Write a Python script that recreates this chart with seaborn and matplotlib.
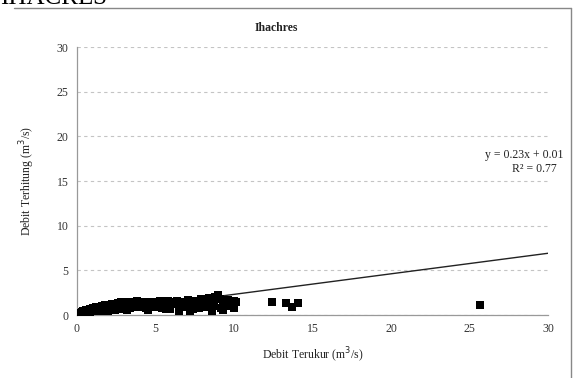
import matplotlib
matplotlib.use("Agg")
import matplotlib.pyplot as plt
import seaborn as sns
import pandas as pd
from matplotlib.lines import Line2D

# Observed (Debit Terukur) and computed (Debit Terhitung) discharge, m3/s
obs = [0.05, 0.1, 0.15, 0.2, 0.3, 0.35, 0.4, 0.5, 0.6, 0.7, 0.8, 0.9, 1.0, 1.1,
       1.2, 1.3, 1.4, 1.5, 1.6, 1.7, 1.8, 1.9, 2.0, 2.1, 2.2, 2.3, 2.5, 2.6,
       2.7, 2.8, 3.0, 3.1, 3.2, 3.3, 3.5, 3.6, 3.7, 3.8, 4.0, 4.1, 4.2, 4.3,
       4.5, 4.6, 4.8, 5.0, 5.2, 5.3, 5.5, 5.6, 5.8, 6.0, 6.1, 6.3, 6.4, 6.6,
       6.8, 7.0, 7.1, 7.3, 7.5, 7.7, 7.9, 8.0, 8.2, 8.4, 8.6, 8.8, 9.0, 9.1,
       9.3, 9.5, 9.6, 9.8, 10.0, 10.1,
       0.3, 0.8, 1.2, 1.7, 2.4, 2.9, 3.4, 3.9, 4.4, 4.9, 5.4, 5.9, 6.5, 6.9,
       7.4, 7.8, 8.3, 8.7, 9.2, 9.7,
       4.5, 5.7, 6.5, 7.2, 8.6, 9.3, 10.0, 3.2, 2.0,
       12.4, 13.3, 13.7, 14.1, 25.7]
sim = [0.05, 0.15, 0.1, 0.25, 0.2, 0.35, 0.45, 0.3, 0.55, 0.45, 0.65, 0.5, 0.75, 0.6,
       0.85, 0.7, 0.95, 0.8, 1.05, 0.9, 1.1, 0.8, 1.15, 0.9, 1.25, 1.0, 1.15, 1.3,
       1.0, 1.4, 1.25, 1.1, 1.4, 1.0, 1.5, 1.25, 1.35, 1.6, 1.25, 1.5, 1.35, 1.1,
       1.5, 1.35, 1.2, 1.5, 1.35, 1.6, 1.2, 1.5, 1.6, 1.3, 1.5, 1.2, 1.6, 1.35,
       1.5, 1.2, 1.7, 1.6, 1.3, 1.6, 1.8, 1.4, 1.7, 1.9, 1.5, 2.0, 2.2, 1.8,
       1.5, 1.4, 1.7, 1.3, 1.6, 1.5,
       0.2, 0.3, 0.4, 0.5, 0.6, 0.7, 0.8, 0.9, 0.8, 0.9, 0.8, 0.7, 0.6, 0.9,
       0.7, 0.8, 0.9, 1.0, 0.8, 1.0,
       0.6, 0.7, 0.5, 0.4, 0.5, 0.6, 0.8, 0.6, 0.4,
       1.4, 1.35, 0.95, 1.3, 1.15]

trend_x = [0, 30]
trend_y = [0.01, 6.91]

df = pd.DataFrame({"obs": obs, "sim": sim})
tr = pd.DataFrame({"x": trend_x, "y": trend_y})

sns.set_style("white")
plt.rcParams["font.family"] = ["Liberation Serif", "DejaVu Serif"]

fig = plt.figure(figsize=(5.77, 3.78), dpi=100)
ax = fig.add_axes([77 / 577, 1 - 315 / 378, 471 / 577, 268 / 378])

ax.yaxis.grid(True, linestyle=(0, (3, 3)), color="#c4c4c4", linewidth=0.8)
ax.set_axisbelow(True)

sns.lineplot(data=tr, x="x", y="y", color="#222222", linewidth=1.0, ax=ax, zorder=2)
sns.scatterplot(data=df, x="obs", y="sim", marker="s", s=36, color="black",
                edgecolor="black", linewidth=0, ax=ax, zorder=3)

ax.set_xlim(0, 30)
ax.set_ylim(0, 30)
ax.set_xticks([0, 5, 10, 15, 20, 25, 30])
ax.set_yticks([0, 5, 10, 15, 20, 25, 30])
ax.tick_params(axis="both", labelsize=8.5, length=0, pad=6, colors="#333333")
for s in ["top", "right"]:
    ax.spines[s].set_visible(False)
for s in ["left", "bottom"]:
    ax.spines[s].set_color("#999999")
    ax.spines[s].set_linewidth(0.9)

ax.set_xlabel("Debit Terukur (m$^3$/s)", fontsize=8.5, color="#222222", labelpad=8)
ax.set_ylabel("Debit Terhitung (m$^3$/s)", fontsize=8.5, color="#222222", labelpad=14)

fig.text(276 / 577, 1 - 28 / 378, "Ihachres", ha="center", va="center",
         fontsize=8.5, fontweight="bold", color="#222222")

fig.text(563 / 577, 1 - 155 / 378, "y = 0.23x + 0.01", ha="right", va="center",
         fontsize=8.5, color="#222222")
fig.text(534 / 577, 1 - 169 / 378, "R² = 0.77", ha="center", va="center",
         fontsize=8.5, color="#222222")

# chart frame and cut-off heading
fig.add_artist(Line2D([14 / 577, 571 / 577], [1 - 8 / 378, 1 - 8 / 378],
                      color="#888888", linewidth=1.0, transform=fig.transFigure))
fig.add_artist(Line2D([571 / 577, 571 / 577], [1 - 8 / 378, 0],
                      color="#888888", linewidth=1.0, transform=fig.transFigure))
fig.text(0.0, 1 - 4 / 378, "IHACRES", ha="left", va="baseline", fontsize=18,
         color="black")

fig.savefig("out.png", dpi=100)
